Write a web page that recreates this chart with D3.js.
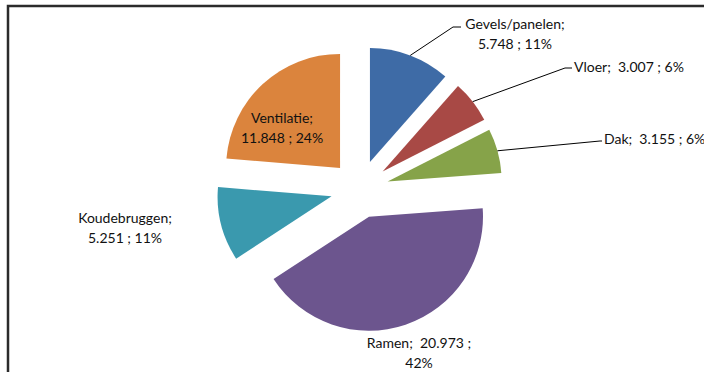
<!DOCTYPE html>
<html><head><meta charset="utf-8">
<script src="https://cdn.jsdelivr.net/npm/d3@7/dist/d3.min.js"></script>
<style>html,body{margin:0;padding:0;background:#fff;}svg{display:block;}</style>
</head><body>
<svg id="c" width="704" height="372"></svg>
<script>
const categories = ["Gevels/panelen", "Vloer", "Dak", "Ramen", "Koudebruggen", "Ventilatie"];
const values = [5.748, 3.007, 3.155, 20.973, 5.251, 11.848];
const valueLabels = ["5.748", "3.007", "3.155", "20.973", "5.251", "11.848"];
const percentLabels = ["11%", "6%", "6%", "42%", "11%", "24%"];
const colors = ["#3E6BA6", "#A84945", "#86A349", "#6C558E", "#3A99AE", "#DB843D"];

const svg = d3.select("#c");
const W = 704, H = 372;
svg.append("rect").attr("width", W).attr("height", H).attr("fill", "#fff");
// chart frame (cropped at right/bottom)
svg.append("path").attr("d", "M8,400 L8,6 L720,6").attr("fill", "none").attr("stroke", "#2b2b2b").attr("stroke-width", 2.5);

const cx = 359.7, cy = 189.2, R = 114, explode = 29;
const pie = d3.pie().sort(null).value(d => d).startAngle(0).endAngle(2 * Math.PI);
const arcs = pie(values);
const arc = d3.arc().innerRadius(0).outerRadius(R);
const g = svg.append("g").attr("transform", `translate(${cx},${cy})`);

function offset(a, r) {
  const m = (a.startAngle + a.endAngle) / 2;
  return [r * Math.sin(m), -r * Math.cos(m)];
}

g.selectAll("path.slice").data(arcs).enter().append("path")
  .attr("class", "slice")
  .attr("d", arc)
  .attr("fill", (d, i) => colors[i])
  .attr("transform", d => { const o = offset(d, explode); return `translate(${o[0]},${o[1]})`; });

const font = "Lato, 'Open Sans', sans-serif";
const fs = 14;
const layout = [
  { leader: [453 - cx, 27 - cy], end: [461 - cx, 27 - cy], lines: 2, x: 515 - cx, y: 24 - cy, anchor: "middle" },
  { leader: [565 - cx, 68 - cy], end: [572 - cx, 68 - cy], lines: 1, x: 574 - cx, y: 67 - cy, anchor: "start" },
  { leader: [600 - cx, 141 - cy], end: [602 - cx, 141 - cy], lines: 1, x: 604 - cx, y: 139 - cy, anchor: "start" },
  { leader: null, lines: 2, x: 419 - cx, y: 343 - cy, anchor: "middle", ramen: true },
  { leader: null, lines: 2, x: 125 - cx, y: 218 - cy, anchor: "middle" },
  { leader: null, lines: 2, x: 282 - cx, y: 118 - cy, anchor: "middle" }
];

arcs.forEach((d, i) => {
  const L = layout[i];
  if (L.leader) {
    const o = offset(d, explode + R);
    g.append("path")
      .attr("d", `M${o[0]},${o[1]} L${L.leader[0]},${L.leader[1]} L${L.end[0]},${L.end[1]}`)
      .attr("fill", "none").attr("stroke", "#000").attr("stroke-width", 1);
  }
  let lines;
  if (L.lines === 1) lines = [`${categories[i]};  ${valueLabels[i]} ; ${percentLabels[i]}`];
  else if (L.ramen) lines = [`${categories[i]};  ${valueLabels[i]} ;`, percentLabels[i]];
  else lines = [`${categories[i]};`, `${valueLabels[i]} ; ${percentLabels[i]}`];
  const t = g.append("text")
    .attr("x", L.x).attr("y", L.y)
    .attr("text-anchor", L.anchor)
    .attr("font-family", font).attr("font-size", fs)
    .attr("fill", "#111")
    .style("white-space", "pre");
  lines.forEach((s, k) => {
    t.append("tspan").attr("x", L.x).attr("y", L.y + k * 20).attr("dy", "0.35em").text(s);
  });
});
</script>
</body></html>
